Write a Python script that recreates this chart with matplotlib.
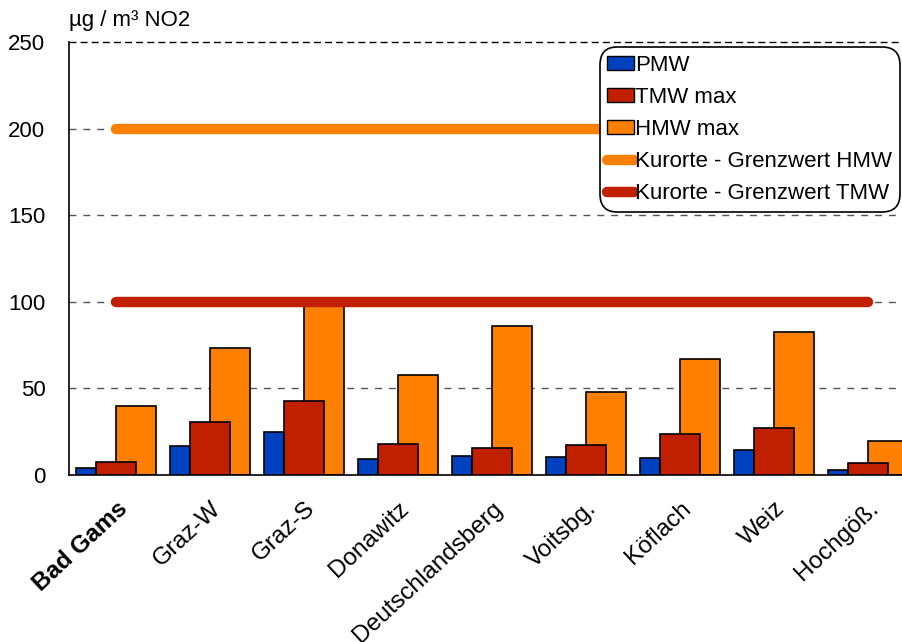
import matplotlib.pyplot as plt
import numpy as np
from matplotlib.patches import Patch
from matplotlib.lines import Line2D

plt.rcParams['font.family'] = ['Liberation Sans', 'DejaVu Sans']

stations = ["Bad Gams", "Graz-W", "Graz-S", "Donawitz", "Deutschlandsberg",
            "Voitsbg.", "Köflach", "Weiz", "Hochgöß."]
pmw = [4, 17, 25, 9.5, 11, 10.4, 10, 14.4, 3]
tmw_max = [7.5, 30.5, 43, 18, 15.5, 17.3, 23.7, 27, 7]
hmw_max = [40, 73.5, 99, 58, 86, 48, 67, 82.5, 19.7]
limit_hmw = 200
limit_tmw = 100

c_blue = "#0041c0"
c_red = "#c02000"
c_orange = "#ff8000"
fs = 16

fig = plt.figure(figsize=(9.02, 6.42), dpi=100)
ax = fig.add_axes([69 / 902, 167 / 642, 846 / 902, 433 / 642])

x = np.arange(len(stations)) + 0.5
w = 0.425
off = 0.213

ax.bar(x - off, pmw, w, color=c_blue, edgecolor="black", linewidth=1.2, zorder=3)
ax.bar(x, tmw_max, w, color=c_red, edgecolor="black", linewidth=1.2, zorder=4)
ax.bar(x + off, hmw_max, w, color=c_orange, edgecolor="black", linewidth=1.2, zorder=2)

ax.plot([x[0], x[-1]], [limit_hmw, limit_hmw], color=c_orange, lw=7.5,
        solid_capstyle="round", zorder=5)
ax.plot([x[0], x[-1]], [limit_tmw, limit_tmw], color=c_red, lw=7.5,
        solid_capstyle="round", zorder=5)

ax.set_xlim(0, 9)
ax.set_ylim(0, 250)
ax.set_yticks([0, 50, 100, 150, 200, 250])
ax.tick_params(axis="y", length=0, pad=17, labelsize=fs)
ax.tick_params(axis="x", length=0, pad=16)
for y in [50, 100, 150, 200]:
    ax.axhline(y, color="#555555", lw=1, ls=(0, (5, 5)), zorder=1)
ax.axhline(250, color="black", lw=1, ls=(0, (5, 3)), zorder=1, clip_on=False)

ax.spines["top"].set_visible(False)
ax.spines["right"].set_visible(False)
ax.spines["left"].set_linewidth(1.2)
ax.spines["bottom"].set_linewidth(1.2)

ax.set_xticks(x)
ax.set_xticklabels(stations, rotation=43, ha="right", rotation_mode="anchor",
                   fontsize=17.5)
ax.get_xticklabels()[0].set_fontweight("bold")

ax.text(0, 1.025, "µg / m³ NO2", transform=ax.transAxes, fontsize=fs,
        ha="left", va="bottom")

handles = [
    Patch(facecolor=c_blue, edgecolor="black"),
    Patch(facecolor=c_red, edgecolor="black"),
    Patch(facecolor=c_orange, edgecolor="black"),
    Line2D([], [], color=c_orange, lw=7.5, solid_capstyle="round"),
    Line2D([], [], color=c_red, lw=7.5, solid_capstyle="round"),
]
labels = ["PMW", "TMW max", "HMW max", "Kurorte - Grenzwert HMW",
          "Kurorte - Grenzwert TMW"]
leg = ax.legend(handles, labels, loc="upper right",
                bbox_to_anchor=((900 - 69) / 846, (475 - 47) / 433),
                fontsize=fs, handlelength=1.2, handleheight=0.6, handletextpad=0.05,
                labelspacing=0.5, borderpad=0.35, borderaxespad=0,
                fancybox=True, framealpha=1, edgecolor="black")
leg.get_frame().set_linewidth(1.2)
leg.get_frame().set_boxstyle("round", pad=0, rounding_size=0.8)
leg.set_zorder(10)

fig.savefig("out.png", dpi=100)
